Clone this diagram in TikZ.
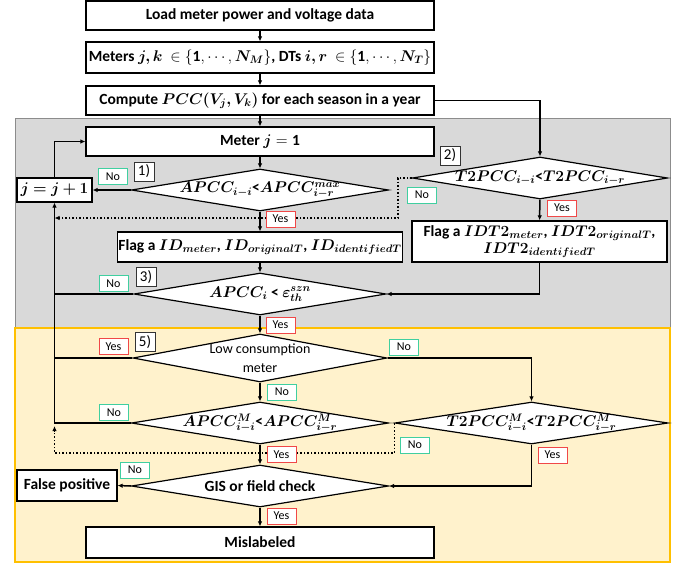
\documentclass[tikz,border=0pt]{standalone}
\usepackage{fix-cm}
\usepackage{bm}
\usepackage{fontspec}
\setmainfont{Carlito}
\usetikzlibrary{shapes.geometric,arrows.meta}

\definecolor{grayzone}{HTML}{D9D9D9}
\definecolor{grayedge}{HTML}{8C8C8C}
\definecolor{yellowzone}{HTML}{FFF2CC}
\definecolor{yellowedge}{HTML}{FFC000}
\definecolor{yesred}{HTML}{F04848}
\definecolor{nogreen}{HTML}{40CFA0}

\begin{document}
\begin{tikzpicture}[x=1pt,y=-1pt,
  box/.style={draw,fill=white,line width=1.2pt,minimum width=348pt,minimum height=29pt,inner sep=1pt,font=\fontsize{15.5}{17}\selectfont\bfseries},
  dia/.style={diamond,draw,fill=white,line width=1.2pt,inner sep=0pt},
  dtext/.style={font=\fontsize{15.5}{17}\selectfont\bfseries,align=center},
  yeslab/.style={draw=yesred,fill=white,line width=0.9pt,minimum width=29pt,minimum height=16pt,inner sep=0pt,font=\fontsize{12}{12}\selectfont},
  nolab/.style={yeslab,draw=nogreen},
  stepno/.style={draw=black!80,fill=white,line width=0.8pt,minimum width=20pt,minimum height=19pt,inner sep=0pt,font=\fontsize{15}{15}\selectfont},
  flow/.style={line width=1.5pt,-{Latex[length=5pt,width=4.5pt]}},
  link/.style={line width=1.5pt},
  back/.style={flow,dotted,line width=1.8pt}]
  \useasboundingbox (0,0) rectangle (681,565);

  % zones
  \draw[fill=grayzone,draw=grayedge,line width=1pt] (15,118) rectangle (670,328);
  \draw[fill=yellowzone,draw=yellowedge,line width=1.2pt] (15,328) rectangle (670,562);

  % main column
  \node[box] (load) at (260,15.5) {Load meter power and voltage data};
  \node[box,minimum height=31pt] (meters) at (260,57.5) {Meters $\bm{j,k}\ \in\{\mathbf{1},\cdots,\bm{N_M}\}$, DTs $\bm{i,r}\ \in\{\mathbf{1},\cdots,\bm{N_T}\}$};
  \node[box] (compute) at (260,100.5) {Compute $\bm{PCC(V_j,V_k)}$ for each season in a year};
  \node[box] (meterone) at (260,141.5) {Meter $\bm{j}=\mathbf{1}$};
  \node[dia,minimum width=257pt,minimum height=42pt,label={[dtext]center:{$\bm{APCC_{i-i}}$\textbf{<}$\bm{APCC_{i-r}^{max}}$}}] (d1) at (260,190) {};
  \node[box,minimum width=75pt,minimum height=24pt] (jinc) at (54.5,190) {$\bm{j=j+1}$};
  \node[dia,minimum width=255pt,minimum height=42pt,label={[dtext]center:{$\bm{T2PCC_{i-i}}$\textbf{<}$\bm{T2PCC_{i-r}}$}}] (d2) at (540,178) {};
  \node[box,minimum width=280pt,minimum height=30pt] (flagid) at (260,247) {Flag a $\bm{ID_{meter}}$, $\bm{ID_{originalT}}$, $\bm{ID_{identifiedT}}$};
  \node[box,minimum width=255pt,minimum height=41pt,align=center] (flagidt) at (539.5,241.5) {Flag a $\bm{IDT2_{meter}}$, $\bm{IDT2_{originalT}}$,\\ $\bm{IDT2_{identifiedT}}$};
  \node[dia,minimum width=252pt,minimum height=42pt,label={[dtext]center:{$\bm{APCC_i}$ \textbf{<} $\bm{\varepsilon_{th}^{szn}}$}}] (d3) at (260,294) {};
  \node[dia,minimum width=254pt,minimum height=48pt,label={[dtext,font=\fontsize{14}{19}\selectfont]center:{Low consumption\\meter}}] (low) at (260,358) {};
  \node[dia,minimum width=257pt,minimum height=42pt,label={[dtext]center:{$\bm{APCC_{i-i}^M}$\textbf{<}$\bm{APCC_{i-r}^M}$}}] (apm) at (260,423) {};
  \node[dia,minimum width=273pt,minimum height=42pt,label={[dtext]center:{$\bm{T2PCC_{i-i}^M}$\textbf{<}$\bm{T2PCC_{i-r}^M}$}}] (t2m) at (531.5,423) {};
  \node[dia,minimum width=257pt,minimum height=42pt,label={[dtext]center:{GIS or field check}}] (gis) at (260,486) {};
  \node[box,minimum width=100pt,minimum height=31pt] (fp) at (67,485.5) {False positive};
  \node[box,minimum height=31pt] (mis) at (260,542.5) {Mislabeled};

  \coordinate (dotone) at (54.5,218);
  \coordinate (dottwo) at (54.5,426);

  % connectors
  \draw[flow] (load) -- (meters);
  \draw[flow] (meters) -- (compute);
  \draw[flow] (compute) -- (meterone);
  \draw[flow] (compute.east) -| (d2.north);
  \draw[flow] (meterone) -- (d1);
  \draw[flow] (d1.west) -- (jinc.east);
  \draw[flow] (jinc.north) |- (meterone.west);
  \draw[flow] (d1) -- (flagid);
  \draw[flow] (d2) -- (flagidt);
  \draw[back] (d2.west) -- ++(-14,0) |- (dotone);
  \draw[flow] (flagid) -- (d3);
  \draw[flow] (flagidt.south) |- (d3.east);
  \draw[link] (d3.west) -- (d3.west -| jinc.south);
  \draw[flow] (d3) -- (low);
  \draw[link] (low.west) -- (low.west -| jinc.south);
  \draw[flow] (low.east) -| (t2m.north);
  \draw[flow] (low) -- (apm);
  \draw[flow] (apm.west) -| (jinc.south);
  \draw[back] (t2m.west) -- ++(0,30) -| (dottwo);
  \draw[flow] (apm) -- (gis);
  \draw[flow] (t2m.south) |- (gis.east);
  \draw[flow] (gis.west) -- (fp.east);
  \draw[flow] (gis) -- (mis);

  % step numbers
  \node[stepno] (s1) at (144,171.5) {1)};
  \node[stepno] (s2) at (450,155.5) {2)};
  \node[stepno] (s3) at (146,277) {3)};
  \node[stepno] (s5) at (145,342) {5)};

  % yes / no tags
  \node[nolab] (n1) at (113,176.5) {No};
  \node[yeslab] (y1) at (280.5,219) {Yes};
  \node[nolab] (n2) at (422,195) {No};
  \node[yeslab] (y2) at (562,208) {Yes};
  \node[nolab] (n3) at (113.5,283.5) {No};
  \node[yeslab] (y3) at (280.5,325) {Yes};
  \node[yeslab] (y5) at (113.5,346.5) {Yes};
  \node[nolab] (n5) at (404,347) {No};
  \node[nolab] (n5b) at (282,392) {No};
  \node[nolab] (n6) at (114,412.5) {No};
  \node[nolab] (n7) at (415,445) {No};
  \node[yeslab] (y6) at (281.5,454.5) {Yes};
  \node[yeslab] (y7) at (552.5,455) {Yes};
  \node[nolab] (n8) at (135,470) {No};
  \node[yeslab] (y8) at (281.5,516) {Yes};
\end{tikzpicture}
\end{document}
